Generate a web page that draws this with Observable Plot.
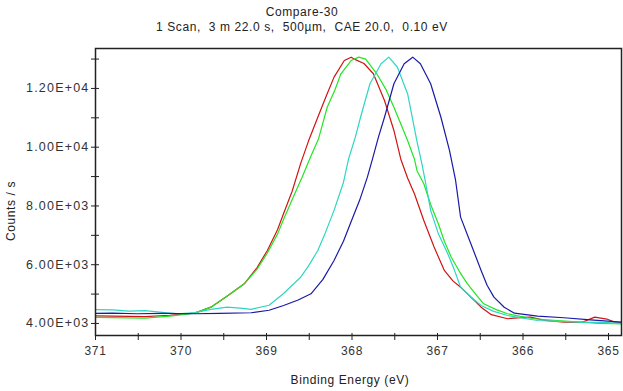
<!DOCTYPE html>
<html><head><meta charset="utf-8">
<script src="https://cdn.jsdelivr.net/npm/d3@7"></script>
<script src="https://cdn.jsdelivr.net/npm/@observablehq/plot@0.6"></script>
<style>
body{margin:0;background:#fff}
svg{display:block}
svg text{letter-spacing:0.6px}
</style>
</head><body><div id="chart"></div>
<script>
// ---- data (binding energy eV, counts/s) ----
const redE   = [371.0,370.80,370.42,370.13,369.84,369.65,369.45,369.26,369.11,368.99,368.87,368.80,368.70,368.60,368.51,368.40,368.30,368.21,368.09,368.01,367.96,367.86,367.75,367.62,367.51,367.43,367.35,367.27,367.16,367.04,366.92,366.82,366.73,366.61,366.49,366.37,366.18,366.03,365.91,365.74,365.52,365.31,365.16,365.02,364.93,364.85];
const redC   = [4260,4250,4230,4280,4350,4555,4950,5350,5900,6485,7200,7745,8500,9450,10200,11020,11750,12385,12950,13065,12980,12850,12500,11590,10570,9600,8950,8415,7505,6600,5805,5450,5235,4900,4555,4300,4160,4200,4215,4100,4045,4040,4215,4150,4045,4040];

const greenE = [371.0,370.80,370.42,370.13,369.84,369.65,369.45,369.26,369.11,368.99,368.87,368.80,368.68,368.58,368.48,368.39,368.29,368.20,368.13,368.01,367.92,367.84,367.71,367.60,367.51,367.43,367.35,367.27,367.24,367.16,367.08,366.99,366.92,366.84,366.74,366.65,366.54,366.46,366.32,366.18,366.03,365.87,365.60,365.32,365.12,364.93,364.85];
const greenC = [4210,4200,4180,4250,4350,4555,4950,5350,5850,6400,7050,7550,8350,9000,9700,10300,11360,11950,12500,12950,13065,13000,12500,11950,11360,10800,10230,9600,9200,8755,8050,7395,6800,6260,5750,5350,4950,4670,4480,4330,4240,4160,4100,4045,4000,3990,3985];

const cyanE  = [371.0,370.80,370.61,370.42,370.22,370.03,369.84,369.65,369.46,369.31,369.18,368.97,368.80,368.70,368.60,368.51,368.40,368.31,368.21,368.10,368.04,367.96,367.90,367.79,367.66,367.57,367.47,367.35,367.24,367.18,367.14,367.08,366.99,366.88,366.80,366.73,366.61,366.49,366.35,366.18,365.83,365.50,365.32,365.02,364.85];
const cyanC  = [4470,4465,4420,4440,4380,4330,4370,4480,4555,4520,4480,4620,5020,5300,5575,5950,6485,7100,7850,8800,9600,10350,11020,12160,12840,13065,12730,11820,10200,9400,8800,7850,7050,6375,5800,5235,4900,4610,4420,4270,4100,4060,4045,4030,4010];

const blueE  = [371.0,370.80,370.51,370.22,369.84,369.55,369.18,368.97,368.80,368.63,368.48,368.34,368.21,368.10,368.02,367.91,367.82,367.76,367.69,367.62,367.51,367.39,367.29,367.20,367.08,366.96,366.86,366.79,366.73,366.61,366.49,366.42,366.34,366.22,366.10,365.83,365.52,365.21,364.85];
const blueC  = [4340,4350,4330,4340,4330,4340,4365,4450,4610,4800,5010,5500,6145,6800,7395,8200,8980,9600,10350,11020,12160,12840,13065,12840,12160,11020,9890,8900,7620,6715,5805,5300,4895,4550,4350,4250,4195,4120,4045];

const seriesNames  = ["Scan A","Scan B","Scan C","Scan D"];
const seriesColors = ["#d01414","#22e622","#2ed6c2","#1a1aa8"];
const seriesE = [redE, greenE, cyanE, blueE];
const seriesC = [redC, greenC, cyanC, blueC];

const xDomain = [371, 364.848];
const yDomain = [3590, 13360];
const xTicksAll   = [371,370.5,370,369.5,369,368.5,368,367.5,367,366.5,366,365.5,365];
const xTickLabels = [371,370,369,368,367,366,365];
const yTicksAll   = [4000,5000,6000,7000,8000,9000,10000,11000,12000,13000];
const yTickLabels = [4000,6000,8000,10000,12000];

const titleText    = "Compare-30";
const subtitleText = "1 Scan,  3 m 22.0 s,  500µm,  CAE 20.0,  0.10 eV";
const xLabelText   = "Binding Energy (eV)";
const yLabelText   = "Counts / s";

// ---- build table ----
const rows = [];
seriesNames.forEach((name, i) => {
  seriesE[i].forEach((e, j) => rows.push({series: name, e, c: seriesC[i][j]}));
});

const sci = d => {
  const ex = Math.floor(Math.log10(d));
  const m = d / Math.pow(10, ex);
  return m.toFixed(2) + "E+" + String(ex).padStart(2, "0");
};

const W = 623, H = 391;
const mL = 95, mR = 2, mT = 48, mB = 56;

const plot = Plot.plot({
  width: W, height: H,
  marginLeft: mL, marginRight: mR, marginTop: mT, marginBottom: mB,
  style: {fontFamily: "Liberation Sans, Arial, sans-serif", fontSize: "12px", color: "#222", background: "#fff"},
  x: {domain: xDomain, label: null},
  y: {domain: yDomain, label: null},
  color: {type: "ordinal", domain: seriesNames, range: seriesColors},
  marks: [
    Plot.line(rows, {x: "e", y: "c", z: "series", stroke: "series", strokeWidth: 1.2, curve: "linear"}),
    Plot.frame({stroke: "#222", strokeWidth: 1.5}),
    Plot.axisX({ticks: xTicksAll, tickSize: 7, dy: -2, text: null, stroke: "#222"}),
    Plot.axisX({ticks: xTickLabels, tickSize: 0, tickPadding: 11, tickFormat: d => String(d), fill: "#333"}),
    Plot.axisY({ticks: yTicksAll, tickSize: 8, dx: 4, text: null, stroke: "#222"}),
    Plot.axisY({ticks: yTickLabels, tickSize: 0, tickPadding: 6, tickFormat: sci, fill: "#333", fontSize: 12.5})
  ]
});

const svg = d3.select(plot);
svg.selectAll('g[aria-label="y-axis tick label"] text').style("letter-spacing", "1.2px");
const txt = (x, y, s, rot) => {
  const t = svg.append("text")
    .attr("x", x).attr("y", y)
    .attr("text-anchor", "middle")
    .attr("font-family", "Liberation Sans, Arial, sans-serif")
    .attr("font-size", 12)
    .attr("fill", "#222")
    .style("white-space", "pre")
    .text(s);
  if (rot) t.attr("transform", `rotate(-90 ${x} ${y})`);
  return t;
};
txt(302, 16, titleText);
txt(302, 31, subtitleText);
txt(350, 384, xLabelText);
txt(15, 211, yLabelText, true);

document.getElementById("chart").appendChild(plot);
</script>
</body></html>
